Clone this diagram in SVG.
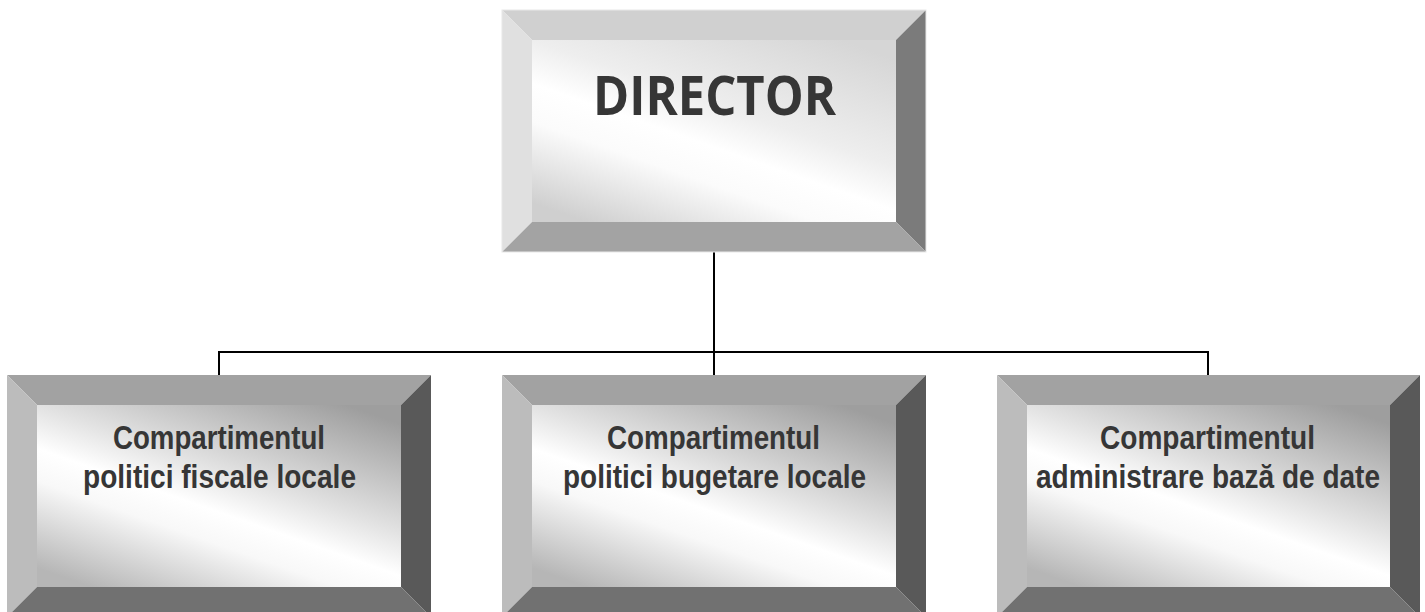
<svg xmlns="http://www.w3.org/2000/svg" width="1425" height="612" viewBox="0 0 1425 612">
  <defs>
    <linearGradient id="faceTop" x1="0.85" y1="0" x2="0.15" y2="1">
      <stop offset="0" stop-color="#d6d6d6"/>
      <stop offset="0.4" stop-color="#eeeeee"/>
      <stop offset="0.56" stop-color="#ffffff"/>
      <stop offset="0.7" stop-color="#fbfbfb"/>
      <stop offset="1" stop-color="#cfcfcf"/>
    </linearGradient>
    <linearGradient id="faceChild" x1="0.85" y1="0" x2="0.15" y2="1">
      <stop offset="0" stop-color="#9e9e9e"/>
      <stop offset="0.4" stop-color="#e2e2e2"/>
      <stop offset="0.56" stop-color="#ffffff"/>
      <stop offset="0.68" stop-color="#f8f8f8"/>
      <stop offset="1" stop-color="#b6b6b6"/>
    </linearGradient>
  </defs>
  <style>
    .t1 { fill: #d0d0d0; } .l1 { fill: #e0e0e0; } .r1 { fill: #7b7b7b; } .b1 { fill: #a3a3a3; }
    .t2 { fill: #a2a2a2; } .l2 { fill: #bcbcbc; } .r2 { fill: #595959; } .b2 { fill: #717171; }
    .edge { fill: none; stroke: #e8e8e8; stroke-width: 1; }
    .face1 { fill: url(#faceTop); }
    .face2 { fill: url(#faceChild); }
    .dir { font-family: "Open Sans", "Liberation Sans", sans-serif; font-weight: bold; font-size: 53px; fill: #363636; text-anchor: middle; }
    .lbl { font-family: "Liberation Sans", Arial, sans-serif; font-weight: bold; font-size: 34px; fill: #363636; text-anchor: middle; }
    .conn { fill: none; stroke: #000000; stroke-width: 2; }
  </style>

  <g id="connectors">
    <line class="conn" x1="714" y1="252" x2="714" y2="375"/>
    <polyline class="conn" points="219,375 219,352 1208,352 1208,375"/>
  </g>

  <g id="node-director">
    <rect class="face1" x="532" y="40" width="364" height="182"/>
    <polygon class="t1" points="502,10 926,10 896,40 532,40"/>
    <polygon class="l1" points="502,10 532,40 532,222 502,252"/>
    <polygon class="r1" points="926,10 926,252 896,222 896,40"/>
    <polygon class="b1" points="502,252 532,222 896,222 926,252"/>
    <rect class="edge" x="502" y="10" width="424" height="242"/>
    <text class="dir" x="714.5" y="115" textLength="243" lengthAdjust="spacingAndGlyphs">DIRECTOR</text>
  </g>

  <g id="node-fiscale">
    <rect class="face2" x="37" y="405" width="364" height="182"/>
    <polygon class="t2" points="7,375 431,375 401,405 37,405"/>
    <polygon class="l2" points="7,375 37,405 37,587 7,617"/>
    <polygon class="r2" points="431,375 431,617 401,587 401,405"/>
    <polygon class="b2" points="7,617 37,587 401,587 431,617"/>
    <text class="lbl" x="219" y="449" textLength="212" lengthAdjust="spacingAndGlyphs">Compartimentul</text>
    <text class="lbl" x="219.5" y="488" textLength="273" lengthAdjust="spacingAndGlyphs">politici fiscale locale</text>
  </g>

  <g id="node-bugetare">
    <rect class="face2" x="532" y="405" width="364" height="182"/>
    <polygon class="t2" points="502,375 926,375 896,405 532,405"/>
    <polygon class="l2" points="502,375 532,405 532,587 502,617"/>
    <polygon class="r2" points="926,375 926,617 896,587 896,405"/>
    <polygon class="b2" points="502,617 532,587 896,587 926,617"/>
    <text class="lbl" x="713.5" y="449" textLength="213" lengthAdjust="spacingAndGlyphs">Compartimentul</text>
    <text class="lbl" x="714.5" y="488" textLength="303" lengthAdjust="spacingAndGlyphs">politici bugetare locale</text>
  </g>

  <g id="node-baza-date">
    <rect class="face2" x="1027" y="405" width="363" height="182"/>
    <polygon class="t2" points="997,375 1420,375 1390,405 1027,405"/>
    <polygon class="l2" points="997,375 1027,405 1027,587 997,617"/>
    <polygon class="r2" points="1420,375 1420,617 1390,587 1390,405"/>
    <polygon class="b2" points="997,617 1027,587 1390,587 1420,617"/>
    <text class="lbl" x="1207.5" y="449" textLength="215" lengthAdjust="spacingAndGlyphs">Compartimentul</text>
    <text class="lbl" x="1208" y="488" textLength="344" lengthAdjust="spacingAndGlyphs">administrare bază de date</text>
  </g>
</svg>
